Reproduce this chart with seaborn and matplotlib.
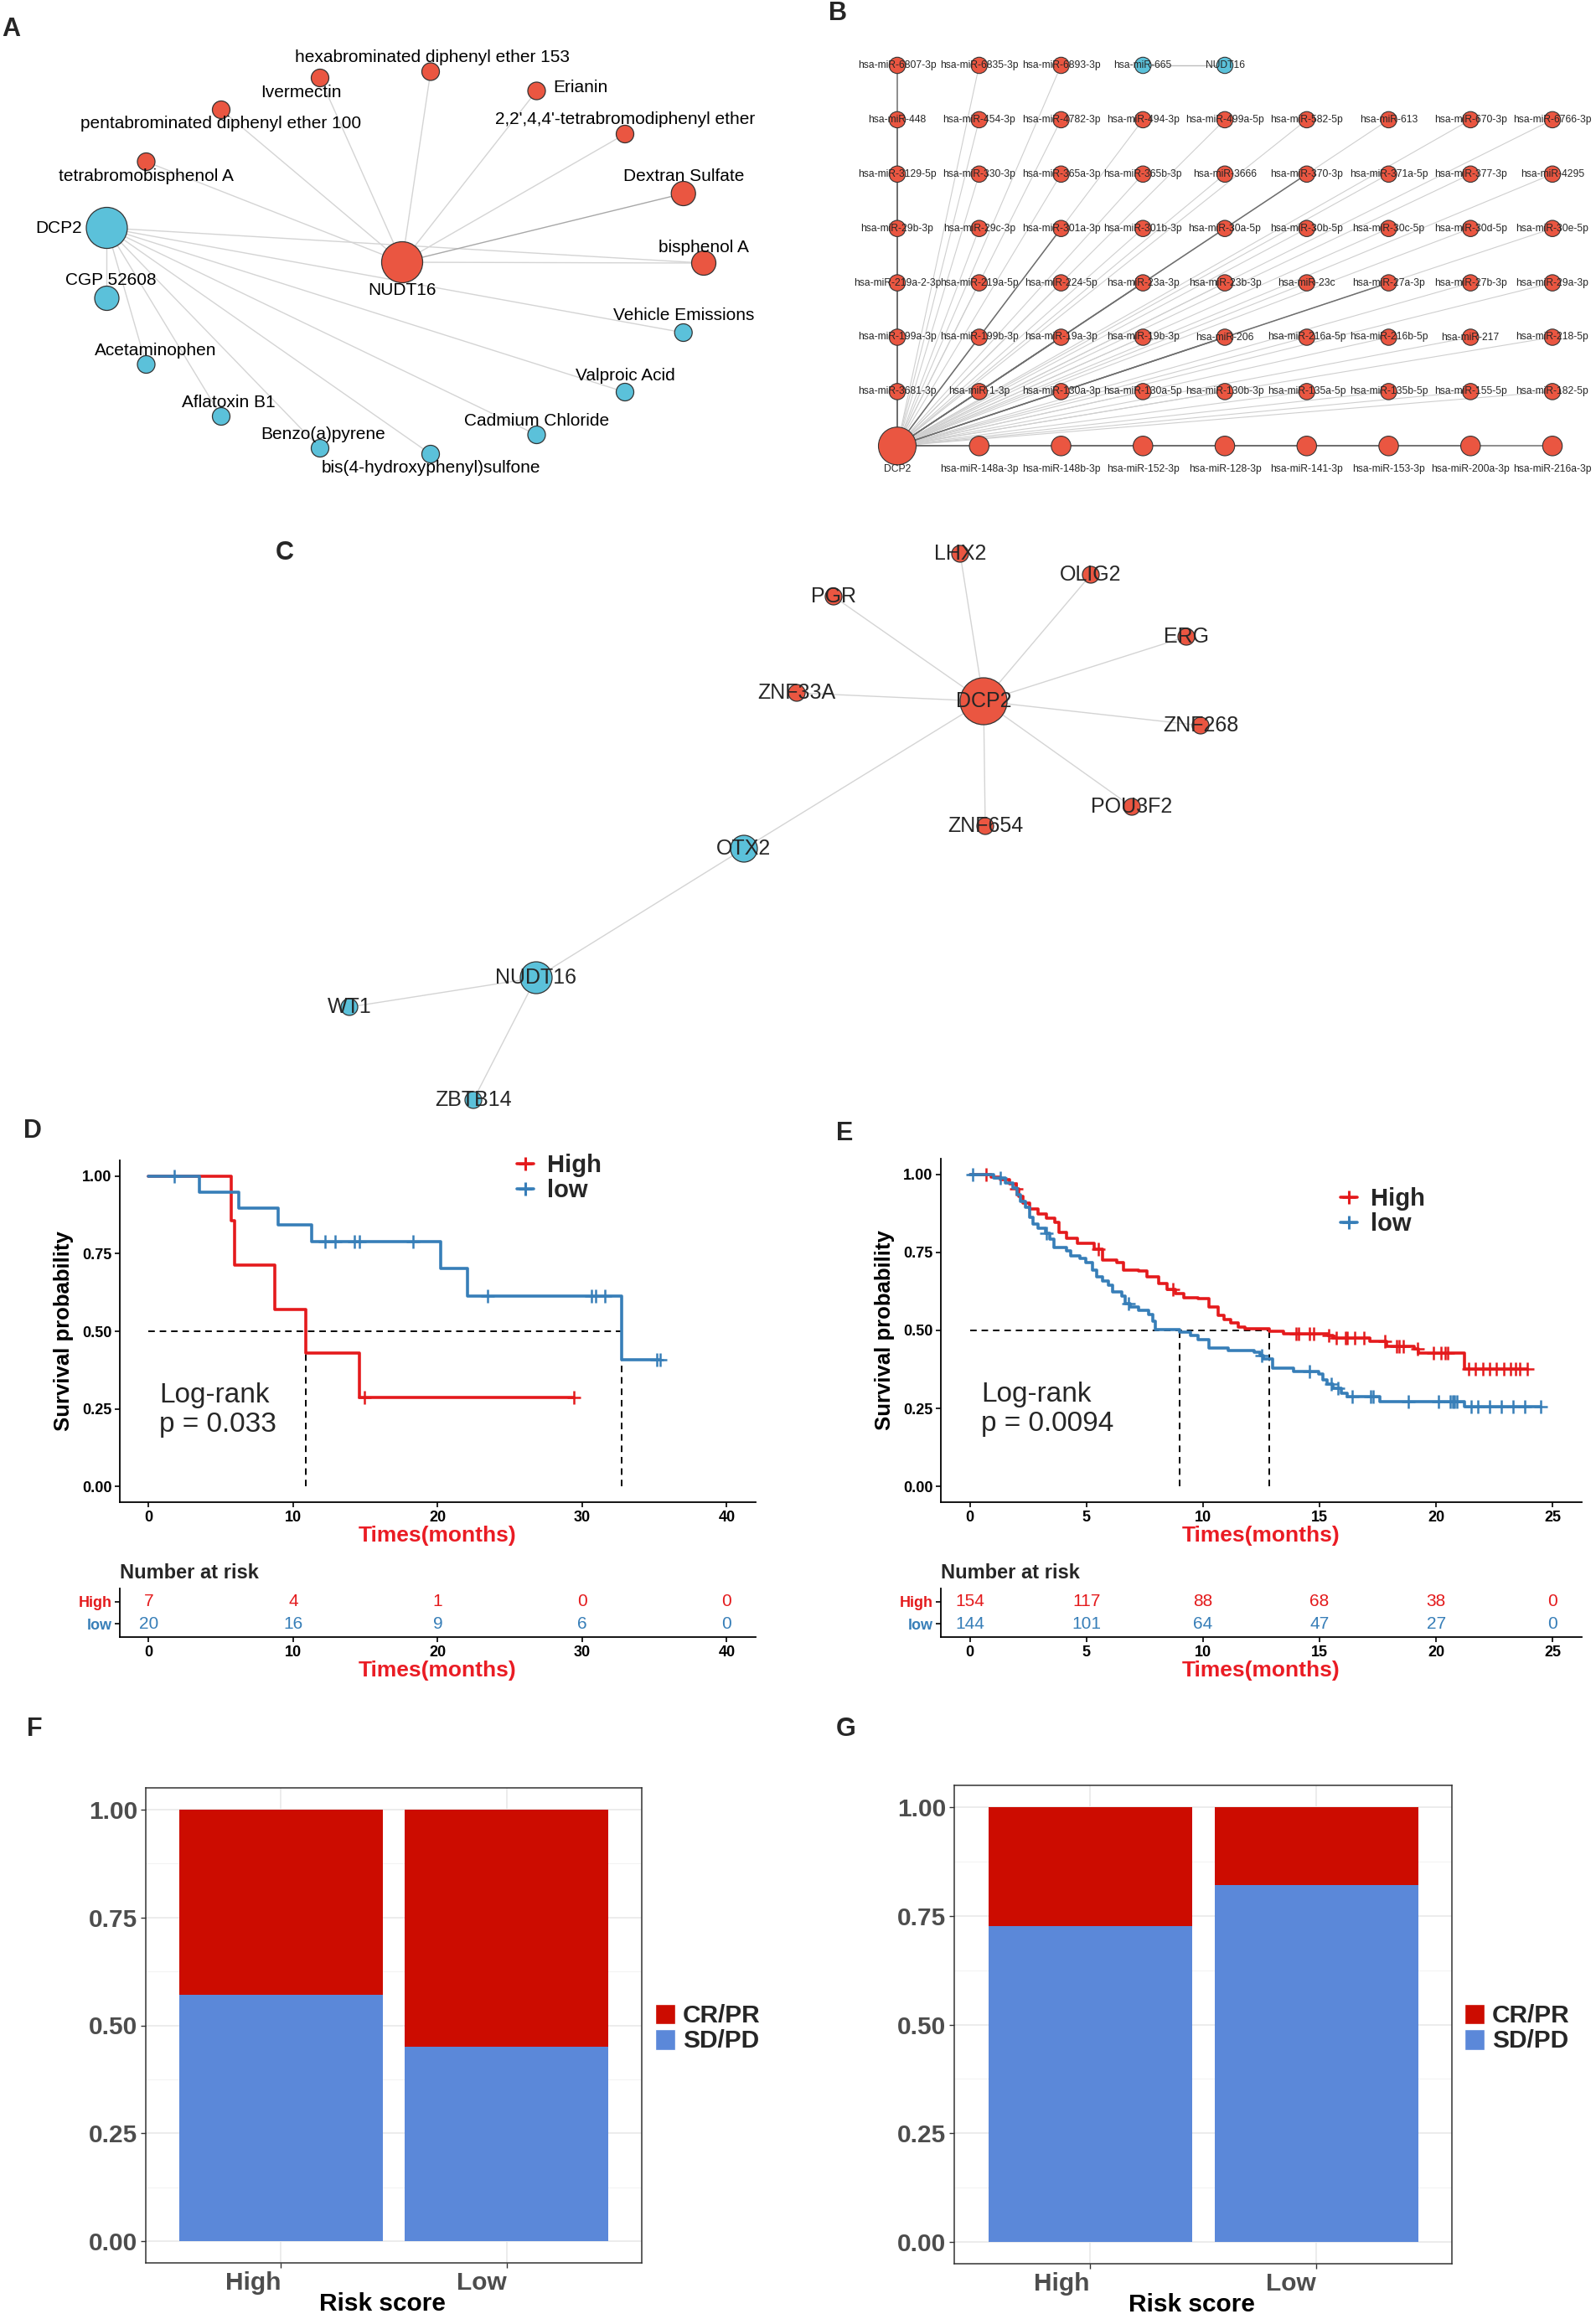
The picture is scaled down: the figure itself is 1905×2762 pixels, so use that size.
import numpy as np
import pandas as pd
import seaborn as sns
import matplotlib
matplotlib.use('Agg')
import matplotlib.pyplot as plt
from matplotlib.lines import Line2D
from matplotlib.patches import Patch

sns.set_theme(style='white')
plt.rcParams['font.family'] = ['Liberation Sans', 'DejaVu Sans']

RED_NODE = '#EA5641'
BLUE_NODE = '#5BC1DA'
KM_RED = '#E41A1C'
KM_BLUE = '#377EB8'
LAB_RED = '#EA1C24'
CR_RED = '#CC0C00'
SD_BLUE = '#5B88D9'

# ---------------- data: panel A (drug / chemical network)
a_dcp2_chems = ['CGP 52608', 'Acetaminophen', 'Aflatoxin B1', 'Benzo(a)pyrene',
                'bis(4-hydroxyphenyl)sulfone', 'Cadmium Chloride', 'Valproic Acid',
                'Vehicle Emissions', 'bisphenol A']
a_nudt16_chems = ['tetrabromobisphenol A', 'pentabrominated diphenyl ether 100', 'Ivermectin',
                  'hexabrominated diphenyl ether 153', 'Erianin',
                  "2,2',4,4'-tetrabromodiphenyl ether", 'Dextran Sulfate', 'bisphenol A']
a_blue = ['DCP2', 'CGP 52608', 'Acetaminophen', 'Aflatoxin B1', 'Benzo(a)pyrene',
          'bis(4-hydroxyphenyl)sulfone', 'Cadmium Chloride', 'Valproic Acid', 'Vehicle Emissions']
a_strong = [('NUDT16', 'Dextran Sulfate')]

# ---------------- data: panel B (miRNA network)
b_rows = [
    ['hsa-miR-6807-3p', 'hsa-miR-6835-3p', 'hsa-miR-6893-3p', 'hsa-miR-665', 'NUDT16'],
    ['hsa-miR-448', 'hsa-miR-454-3p', 'hsa-miR-4782-3p', 'hsa-miR-494-3p', 'hsa-miR-499a-5p',
     'hsa-miR-582-5p', 'hsa-miR-613', 'hsa-miR-670-3p', 'hsa-miR-6766-3p'],
    ['hsa-miR-3129-5p', 'hsa-miR-330-3p', 'hsa-miR-365a-3p', 'hsa-miR-365b-3p', 'hsa-miR-3666',
     'hsa-miR-370-3p', 'hsa-miR-371a-5p', 'hsa-miR-377-3p', 'hsa-miR-4295'],
    ['hsa-miR-29b-3p', 'hsa-miR-29c-3p', 'hsa-miR-301a-3p', 'hsa-miR-301b-3p', 'hsa-miR-30a-5p',
     'hsa-miR-30b-5p', 'hsa-miR-30c-5p', 'hsa-miR-30d-5p', 'hsa-miR-30e-5p'],
    ['hsa-miR-219a-2-3p', 'hsa-miR-219a-5p', 'hsa-miR-224-5p', 'hsa-miR-23a-3p', 'hsa-miR-23b-3p',
     'hsa-miR-23c', 'hsa-miR-27a-3p', 'hsa-miR-27b-3p', 'hsa-miR-29a-3p'],
    ['hsa-miR-199a-3p', 'hsa-miR-199b-3p', 'hsa-miR-19a-3p', 'hsa-miR-19b-3p', 'hsa-miR-206',
     'hsa-miR-216a-5p', 'hsa-miR-216b-5p', 'hsa-miR-217', 'hsa-miR-218-5p'],
    ['hsa-miR-3681-3p', 'hsa-miR-1-3p', 'hsa-miR-130a-3p', 'hsa-miR-130a-5p', 'hsa-miR-130b-3p',
     'hsa-miR-135a-5p', 'hsa-miR-135b-5p', 'hsa-miR-155-5p', 'hsa-miR-182-5p'],
]
b_bottom = ['DCP2', 'hsa-miR-148a-3p', 'hsa-miR-148b-3p', 'hsa-miR-152-3p', 'hsa-miR-128-3p',
            'hsa-miR-141-3p', 'hsa-miR-153-3p', 'hsa-miR-200a-3p', 'hsa-miR-216a-3p']
b_blue = ['hsa-miR-665', 'NUDT16']
b_strong = ['hsa-miR-301a-3p', 'hsa-miR-23a-3p', 'hsa-miR-19a-3p', 'hsa-miR-370-3p',
            'hsa-miR-27a-3p', 'hsa-miR-206']

# ---------------- data: panel C (TF network)
c_edges = [('DCP2', 'LHX2'), ('DCP2', 'OLIG2'), ('DCP2', 'PGR'), ('DCP2', 'ERG'),
           ('DCP2', 'ZNF33A'), ('DCP2', 'ZNF268'), ('DCP2', 'POU3F2'), ('DCP2', 'ZNF654'),
           ('DCP2', 'OTX2'), ('OTX2', 'NUDT16'), ('NUDT16', 'WT1'), ('NUDT16', 'ZBTB14')]
c_blue = ['OTX2', 'NUDT16', 'WT1', 'ZBTB14']

# ---------------- data: panel D / E (Kaplan-Meier)
d_high_t = [0, 5.69, 5.97, 8.73, 10.87, 14.6, 29.43]
d_high_s = [1.0, 0.857, 0.714, 0.571, 0.429, 0.286, 0.286]
d_high_cens = [14.94, 29.43]
d_low_t = [0, 3.49, 6.25, 8.97, 11.28, 20.22, 22.08, 32.71, 35.37]
d_low_s = [1.0, 0.947, 0.895, 0.842, 0.789, 0.701, 0.614, 0.409, 0.409]
d_low_cens = [1.79, 12.18, 12.87, 14.25, 14.6, 18.29, 23.46, 30.64, 30.92, 31.57, 35.16, 35.37]
d_risk_t = [0, 10, 20, 30, 40]
d_risk_high = [7, 4, 1, 0, 0]
d_risk_low = [20, 16, 9, 6, 0]
d_pval = 'p = 0.033'

e_high_t = [0, 0.9, 1.3, 1.7, 1.97, 2.09, 2.27, 2.57, 2.93, 3.29, 3.65, 3.83, 4.13, 4.61, 5.33,
            5.69, 6.29, 6.59, 7.25, 7.61, 8.09, 8.45, 8.81, 9.17, 9.77, 10.24, 10.66, 10.9, 11.2,
            11.5, 11.8, 12.84, 13.44, 15.35, 15.59, 17.14, 17.86, 19.06, 19.24, 21.2, 23.9]
e_high_s = [1.0, 0.99, 0.983, 0.97, 0.953, 0.93, 0.908, 0.89, 0.872, 0.859, 0.845, 0.814, 0.796,
            0.779, 0.761, 0.725, 0.716, 0.694, 0.69, 0.672, 0.65, 0.632, 0.619, 0.605, 0.601,
            0.574, 0.547, 0.534, 0.525, 0.512, 0.505, 0.497, 0.49, 0.483, 0.475, 0.466, 0.449,
            0.44, 0.428, 0.377, 0.377]
e_high_cens = [0.7, 1.97, 5.5, 8.7, 13.98, 14.1, 14.58, 14.76, 15.4, 15.7, 16.1, 16.2, 16.5,
               16.9, 17.8, 18.3, 18.4, 18.6, 19.2, 19.9, 20.2, 20.4, 20.5, 21.4, 21.7, 22.0,
               22.3, 22.6, 22.9, 23.2, 23.4, 23.6, 23.9]
e_low_t = [0, 1.03, 1.5, 1.85, 2.03, 2.15, 2.39, 2.57, 2.69, 2.93, 3.23, 3.41, 3.59, 4.13, 4.31,
           4.73, 4.97, 5.27, 5.45, 5.69, 5.93, 6.11, 6.53, 6.65, 6.89, 7.25, 7.67, 7.85, 7.97,
           8.98, 9.45, 9.8, 10.24, 11.07, 12.2, 12.44, 12.6, 13.0, 13.9, 14.97, 15.15, 15.33,
           15.57, 15.93, 16.17, 17.6, 21.2, 24.5]
e_low_s = [1.0, 0.987, 0.973, 0.957, 0.934, 0.912, 0.894, 0.863, 0.841, 0.828, 0.81, 0.792,
           0.765, 0.756, 0.739, 0.73, 0.716, 0.694, 0.672, 0.659, 0.645, 0.623, 0.61, 0.587,
           0.574, 0.565, 0.552, 0.529, 0.503, 0.495, 0.485, 0.47, 0.445, 0.436, 0.43, 0.42,
           0.408, 0.378, 0.369, 0.36, 0.343, 0.329, 0.316, 0.298, 0.287, 0.273, 0.257, 0.257]
e_low_cens = [0.1, 1.3, 3.29, 6.8, 12.5, 14.58, 15.5, 15.8, 16.4, 17.2, 17.3, 18.8, 20.1, 20.6,
              20.7, 20.8, 20.9, 21.5, 21.8, 22.3, 22.8, 23.3, 23.8, 24.5]
e_risk_t = [0, 5, 10, 15, 20, 25]
e_risk_high = [154, 117, 88, 68, 38, 0]
e_risk_low = [144, 101, 64, 47, 27, 0]
e_pval = 'p = 0.0094'

# ---------------- data: panel F / G (response proportion)
resp_groups = ['High', 'Low']
f_sd_pd = [0.571, 0.45]
f_cr_pr = [0.429, 0.55]
g_sd_pd = [0.727, 0.82]
g_cr_pr = [0.273, 0.18]

# ---------------- layout (pixel coordinates of the 1906 x 2762 canvas)
W, H = 1906, 2762
fig = plt.figure(figsize=(W / 100, H / 100), dpi=100)


def px_axes(l, t, r, b):
    return fig.add_axes([l / W, 1 - b / H, (r - l) / W, (b - t) / H])


def px_text(x, y, s, **kw):
    fig.text(x / W, 1 - y / H, s, **kw)


def r2s(r):
    # node radius in px -> scatter area in pt^2
    return (2 * r * 0.72) ** 2


def draw_nodes(ax, pos, names, blue, tiers, tier_r, lw=0.9):
    df = pd.DataFrame({
        'x': [pos[n][0] for n in names],
        'y': [pos[n][1] for n in names],
        'grp': ['blue' if n in blue else 'red' for n in names],
        'tier': [tiers.get(n, 'leaf') for n in names],
    })
    sns.scatterplot(data=df, x='x', y='y', hue='grp', palette={'red': RED_NODE, 'blue': BLUE_NODE},
                    size='tier', sizes={k: r2s(v) for k, v in tier_r.items()},
                    edgecolor='#333333', linewidth=lw, legend=False, ax=ax, zorder=3)


def net_axes(l, t, r, b):
    ax = px_axes(l, t, r, b)
    ax.set_xlim(l, r)
    ax.set_ylim(b, t)
    ax.axis('off')
    return ax


# ---- Panel A
a_pos = {
    'DCP2': (127.5, 272), 'NUDT16': (480, 313),
    'hexabrominated diphenyl ether 153': (514, 85.5), 'Ivermectin': (382, 93),
    'Erianin': (640.5, 108.5), 'pentabrominated diphenyl ether 100': (264, 131),
    "2,2',4,4'-tetrabromodiphenyl ether": (746, 160), 'tetrabromobisphenol A': (174.5, 193),
    'Dextran Sulfate': (815.7, 231), 'bisphenol A': (840, 314), 'CGP 52608': (127.5, 356),
    'Vehicle Emissions': (815.7, 397), 'Acetaminophen': (174.5, 435), 'Valproic Acid': (746, 468),
    'Aflatoxin B1': (264, 497), 'Cadmium Chloride': (640.5, 519), 'Benzo(a)pyrene': (382, 535),
    'bis(4-hydroxyphenyl)sulfone': (514, 542)}
a_lab = {
    'DCP2': (98, 273, 'right'), 'NUDT16': (480, 346, 'center'),
    'hexabrominated diphenyl ether 153': (516, 69, 'center'), 'Ivermectin': (359.5, 110, 'center'),
    'Erianin': (660, 105, 'left'), 'pentabrominated diphenyl ether 100': (264, 147.6, 'center'),
    "2,2',4,4'-tetrabromodiphenyl ether": (746, 143, 'center'),
    'tetrabromobisphenol A': (174.5, 210, 'center'), 'Dextran Sulfate': (815.7, 210, 'center'),
    'bisphenol A': (840, 295.5, 'center'), 'CGP 52608': (132, 334.6, 'center'),
    'Vehicle Emissions': (815.7, 377, 'center'), 'Acetaminophen': (186, 418, 'center'),
    'Valproic Acid': (746, 449, 'center'), 'Aflatoxin B1': (273, 480, 'center'),
    'Cadmium Chloride': (640.5, 502, 'center'), 'Benzo(a)pyrene': (385.6, 518, 'center'),
    'bis(4-hydroxyphenyl)sulfone': (514, 558, 'center')}
a_tiers = {'DCP2': 'hub', 'NUDT16': 'hub', 'CGP 52608': 'mid', 'Dextran Sulfate': 'mid',
           'bisphenol A': 'mid'}

axA = net_axes(0, 0, 1013, 580)
a_edges = [('DCP2', c) for c in a_dcp2_chems] + [('NUDT16', c) for c in a_nudt16_chems]
for u, v in a_edges:
    col = '#A8A8A8' if (u, v) in a_strong else '#D4D4D4'
    axA.plot([a_pos[u][0], a_pos[v][0]], [a_pos[u][1], a_pos[v][1]], color=col, lw=1.0, zorder=1)
draw_nodes(axA, a_pos, list(a_pos), a_blue, a_tiers, {'hub': 24.5, 'mid': 14.5, 'leaf': 10.5})
for n, (x, y, ha) in a_lab.items():
    axA.text(x, y, n, ha=ha, va='center', fontsize=15, color='black', zorder=4, clip_on=False)

# ---- Panel B
b_x0, b_dx, b_y0, b_dy = 1071, 97.75, 78, 64.9
b_pos = {}
for r, row in enumerate(b_rows):
    for c, name in enumerate(row):
        b_pos[name] = (b_x0 + c * b_dx, b_y0 + r * b_dy)
for c, name in enumerate(b_bottom):
    b_pos[name] = (b_x0 + c * b_dx, b_y0 + 7 * b_dy)

axB = net_axes(1013, 40, 1906, 600)
light, dark = [], []
for name, (x, y) in b_pos.items():
    if name in ('DCP2', 'hsa-miR-665', 'NUDT16'):
        continue
    strong = x == b_x0 or name in b_bottom or name in b_strong
    (dark if strong else light).append(name)
for group, col, lw in [(light, '#CFCFCF', 0.8), (dark, '#6E6E6E', 1.1)]:
    for name in group:
        axB.plot([b_pos['DCP2'][0], b_pos[name][0]], [b_pos['DCP2'][1], b_pos[name][1]],
                 color=col, lw=lw, zorder=1)
axB.plot([b_pos['hsa-miR-665'][0], b_pos['NUDT16'][0]],
         [b_pos['hsa-miR-665'][1], b_pos['NUDT16'][1]], color='#BDBDBD', lw=1.0, zorder=1)
b_tiers = {n: 'row' for n in b_bottom}
b_tiers['DCP2'] = 'hub'
draw_nodes(axB, b_pos, list(b_pos), b_blue, b_tiers, {'hub': 22.5, 'row': 11.7, 'leaf': 9.7}, lw=0.8)
for n, (x, y) in b_pos.items():
    if n in b_bottom:
        axB.text(x, y + 28, n, ha='center', va='center', fontsize=8.7, zorder=4, clip_on=False)
    else:
        axB.text(x, y, n, ha='center', va='center', fontsize=8.7, zorder=4, clip_on=False)

# ---- Panel C
c_pos = {'LHX2': (1146, 661), 'OLIG2': (1302, 686), 'PGR': (995, 712), 'ERG': (1416, 760),
         'ZNF33A': (951, 827), 'DCP2': (1174, 837), 'ZNF268': (1433, 866), 'POU3F2': (1351, 963),
         'ZNF654': (1176, 986), 'OTX2': (888, 1013), 'NUDT16': (640, 1167), 'WT1': (417, 1202),
         'ZBTB14': (565, 1313)}
c_tiers = {'DCP2': 'hub', 'NUDT16': 'big', 'OTX2': 'mid'}
axC = net_axes(330, 600, 1500, 1340)
for u, v in c_edges:
    axC.plot([c_pos[u][0], c_pos[v][0]], [c_pos[u][1], c_pos[v][1]], color='#D4D4D4', lw=1.0, zorder=1)
draw_nodes(axC, c_pos, list(c_pos), c_blue, c_tiers, {'hub': 28, 'big': 19, 'mid': 16, 'leaf': 10})
for n, (x, y) in c_pos.items():
    axC.text(x, y, n, ha='center', va='center', fontsize=18, zorder=4, clip_on=False)


# ---- Panels D / E
def step_at(t, s, x):
    idx = np.searchsorted(np.asarray(t), np.asarray(x), side='right') - 1
    return np.asarray(s)[idx]


def median_time(t, s):
    t = np.asarray(t)
    s = np.asarray(s)
    return t[np.argmax(s <= 0.5)]


def style_km_axes(ax):
    for sp in ['top', 'right']:
        ax.spines[sp].set_visible(False)
    for sp in ['left', 'bottom']:
        ax.spines[sp].set_color('black')
        ax.spines[sp].set_linewidth(1.3)
    ax.tick_params(bottom=True, left=True, direction='out', length=4, width=1.2, color='black',
                   labelsize=13, pad=3, labelcolor='black')
    for lab in ax.get_xticklabels() + ax.get_yticklabels():
        lab.set_fontweight('bold')


def km_panel(box, rbox, hi, lo, risk_t, risk_hi, risk_lo, pval, leg_px, lr_xy):
    ax = px_axes(*box)
    xmax = risk_t[-1]
    xlim = (-0.05 * xmax, 1.05 * xmax)
    for (t, s, c), col in [(hi, KM_RED), (lo, KM_BLUE)]:
        sns.lineplot(x=t, y=s, drawstyle='steps-post', color=col, lw=2.6, ax=ax,
                     estimator=None, sort=False, zorder=3)
        ax.plot(c, step_at(t, s, c), ls='none', marker='+', ms=11, mew=1.8, color=col, zorder=3)
    m_hi = median_time(hi[0], hi[1])
    m_lo = median_time(lo[0], lo[1])
    dash = dict(color='black', lw=1.4, ls=(0, (4, 3)), zorder=2)
    ax.plot([0, max(m_hi, m_lo)], [0.5, 0.5], **dash)
    for m in (m_hi, m_lo):
        ax.plot([m, m], [0, 0.5], **dash)
    ax.set_xlim(*xlim)
    ax.set_ylim(-0.05, 1.05)
    ax.set_xticks(risk_t)
    ax.set_yticks([0, 0.25, 0.5, 0.75, 1.0])
    ax.set_yticklabels(['0.00', '0.25', '0.50', '0.75', '1.00'])
    style_km_axes(ax)
    ax.set_xlabel('Times(months)', fontsize=19, fontweight='bold', color=LAB_RED)
    ax.xaxis.label.set_va('center')
    ax.xaxis.set_label_coords(0.5, -40 / (box[3] - box[1]))
    ax.set_ylabel('Survival probability', fontsize=18.5, fontweight='bold', color='black')
    ax.yaxis.label.set_va('center')
    ax.yaxis.set_label_coords(-67 / (box[2] - box[0]), 0.5)
    ax.text(lr_xy[0], lr_xy[1], 'Log-rank', fontsize=24, ha='left', va='center')
    ax.text(lr_xy[0], lr_xy[2], pval, fontsize=24, ha='left', va='center')
    handles = [Line2D([0], [0], color=KM_RED, lw=2.6, marker='+', ms=12, mew=2.2),
               Line2D([0], [0], color=KM_BLUE, lw=2.6, marker='+', ms=12, mew=2.2)]
    ax.legend(handles, ['High', 'low'], loc='center left',
              bbox_to_anchor=(leg_px[0] / W, 1 - leg_px[1] / H), bbox_transform=fig.transFigure,
              frameon=False, prop={'size': 21, 'weight': 'bold'}, handlelength=0.7,
              handletextpad=0.55, labelspacing=0.05, borderpad=0, borderaxespad=0)

    axr = px_axes(*rbox)
    axr.set_xlim(*xlim)
    axr.set_ylim(0.4, 2.6)
    axr.set_xticks(risk_t)
    axr.set_yticks([1, 2])
    axr.set_yticklabels(['low', 'High'])
    style_km_axes(axr)
    axr.get_yticklabels()[0].set_color(KM_BLUE)
    axr.get_yticklabels()[1].set_color(KM_RED)
    for x, h, l in zip(risk_t, risk_hi, risk_lo):
        axr.text(x, 2, str(h), color=KM_RED, ha='center', va='center', fontsize=15)
        axr.text(x, 1, str(l), color=KM_BLUE, ha='center', va='center', fontsize=15)
    axr.set_title('Number at risk', loc='left', fontsize=17, fontweight='bold', pad=9)
    axr.set_xlabel('Times(months)', fontsize=19, fontweight='bold', color=LAB_RED)
    axr.xaxis.label.set_va('center')
    axr.xaxis.set_label_coords(0.5, -40 / (rbox[3] - rbox[1]))


km_panel((143, 1385, 902, 1793), (143, 1896, 902, 1954),
         (d_high_t, d_high_s, d_high_cens), (d_low_t, d_low_s, d_low_cens),
         d_risk_t, d_risk_high, d_risk_low, d_pval, (617, 1406), (0.75, 0.295, 0.199))
km_panel((1123, 1383, 1888, 1793), (1123, 1896, 1888, 1954),
         (e_high_t, e_high_s, e_high_cens), (e_low_t, e_low_s, e_low_cens),
         e_risk_t, e_risk_high, e_risk_low, e_pval, (1600, 1446), (0.47, 0.296, 0.2))


# ---- Panels F / G
def response_panel(box, sd, cr, leg_px):
    ax = px_axes(*box)
    total = [a + b for a, b in zip(sd, cr)]
    sns.barplot(x=resp_groups, y=total, color=CR_RED, saturation=1, width=0.9, errorbar=None,
                linewidth=0, ax=ax)
    sns.barplot(x=resp_groups, y=sd, color=SD_BLUE, saturation=1, width=0.9, errorbar=None,
                linewidth=0, ax=ax)
    ax.set_xlim(-0.6, 1.6)
    ax.set_ylim(-0.05, 1.05)
    ax.set_yticks([0, 0.25, 0.5, 0.75, 1.0])
    ax.set_yticklabels(['0.00', '0.25', '0.50', '0.75', '1.00'])
    ax.set_yticks([0.125, 0.375, 0.625, 0.875], minor=True)
    ax.set_axisbelow(True)
    ax.grid(which='major', color='#EBEBEB', lw=1.3)
    ax.grid(which='minor', axis='y', color='#F3F3F3', lw=0.8)
    for sp in ax.spines.values():
        sp.set_visible(True)
        sp.set_color('#333333')
        sp.set_linewidth(1.1)
    ax.tick_params(which='major', bottom=True, left=True, direction='out', length=4, width=1.0,
                   color='#333333', labelsize=21.5, labelcolor='#4D4D4D', pad=3)
    ax.tick_params(which='minor', length=0)
    for lab in ax.get_xticklabels() + ax.get_yticklabels():
        lab.set_fontweight('bold')
    for lab in ax.get_xticklabels():
        lab.set_ha('right')
    ax.set_ylabel('')
    ax.set_xlabel('Risk score', fontsize=21.5, fontweight='bold', color='black')
    ax.xaxis.label.set_va('center')
    ax.xaxis.set_label_coords(0.477, -49 / (box[3] - box[1]))
    handles = [Patch(facecolor=CR_RED, edgecolor='white', label='CR/PR'),
               Patch(facecolor=SD_BLUE, edgecolor='white', label='SD/PD')]
    ax.legend(handles=handles, loc='center left',
              bbox_to_anchor=(leg_px[0] / W, 1 - leg_px[1] / H), bbox_transform=fig.transFigure,
              frameon=False, prop={'size': 21.5, 'weight': 'bold'}, handlelength=0.8,
              handleheight=0.9, handletextpad=0.3, labelspacing=0.05, borderpad=0,
              borderaxespad=0)


response_panel((174, 2134, 766, 2701), f_sd_pd, f_cr_pr, (782, 2421))
response_panel((1139, 2131, 1733, 2702), g_sd_pd, g_cr_pr, (1748, 2421))

# ---- panel letters
for letter, x, y in [('A', 13, 35), ('B', 1000, 16), ('C', 340, 660), ('D', 39, 1350),
                     ('E', 1008, 1353), ('F', 41, 2064), ('G', 1010, 2064)]:
    px_text(x, y, letter, fontsize=22, fontweight='bold', ha='center', va='center')

fig.savefig('out.png', dpi=100, facecolor='white')
